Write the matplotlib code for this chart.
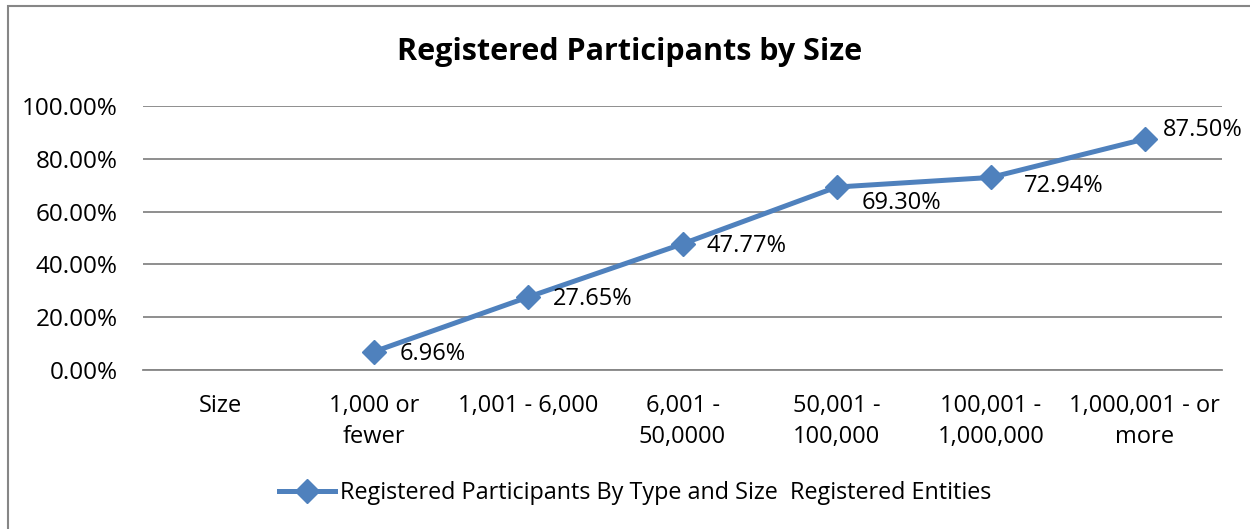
import matplotlib
matplotlib.use('Agg')
import matplotlib.pyplot as plt
from matplotlib.patches import Rectangle
from matplotlib.ticker import FuncFormatter, MultipleLocator

# data
categories = ["Size", "1,000 or\nfewer", "1,001 - 6,000", "6,001 -\n50,0000",
              "50,001 -\n100,000", "100,001 -\n1,000,000", "1,000,001 - or\nmore"]
values = [None, 0.0696, 0.2765, 0.4777, 0.6930, 0.7294, 0.8750]
value_labels = ["", "6.96%", "27.65%", "47.77%", "69.30%", "72.94%", "87.50%"]
series_name = "Registered Participants By Type and Size  Registered Entities"

blue = '#4F81BD'
grey = '#868686'
plt.rcParams['font.family'] = ['Open Sans', 'DejaVu Sans']

W, H = 1250, 529
fig = plt.figure(figsize=(W / 100, H / 100), dpi=100)
fig.patch.set_facecolor('white')

# outer chart border (runs off the right / bottom edges)
fig.patches.append(Rectangle((8 / W, -0.1), 1.2, (H - 6) / H + 0.1, transform=fig.transFigure,
                             fill=False, edgecolor=grey, linewidth=1.5))

ax = fig.add_axes([143 / W, 1 - 370 / H, (1222 - 143) / W, (370 - 106) / H])
x = list(range(len(categories)))
xs = [i for i, v in zip(x, values) if v is not None]
ys = [v for v in values if v is not None]
line, = ax.plot(xs, ys, color=blue, linewidth=3.6, marker='D', markersize=12,
                label=series_name)

# data labels (small manual nudges as in the source)
offsets = [(0, 0), (18, -1.5), (18, -1.5), (17, -1.5), (18, -11.5), (24, -6.5), (13, 6.5)]
for i, v in enumerate(values):
    if v is None:
        continue
    ax.annotate(value_labels[i], (i, v), xytext=offsets[i], textcoords='offset points',
                ha='left', va='center', fontsize=17, color='black')

ax.set_xlim(-0.5, len(categories) - 0.5)
ax.set_ylim(0, 1)
ax.yaxis.set_major_locator(MultipleLocator(0.2))
ax.yaxis.set_major_formatter(FuncFormatter(lambda v, p: f"{v * 100:.2f}%"))
ax.set_xticks(x)
ax.set_xticklabels(categories, fontsize=17, linespacing=1.4, va='top')
ax.tick_params(axis='y', labelsize=17.5, length=0, pad=18)
ax.tick_params(axis='x', length=0, pad=17)
ax.grid(axis='y', color=grey, linewidth=1.3)
ax.set_axisbelow(True)
for s in ['top', 'right', 'left']:
    ax.spines[s].set_visible(False)
ax.spines['bottom'].set_color(grey)
ax.spines['bottom'].set_linewidth(1.3)

fig.text(630 / W, 1 - 52 / H, "Registered Participants by Size", ha='center', va='center',
         fontsize=22, fontweight='bold')

fig.legend(handles=[line], loc='center', bbox_to_anchor=(635 / W, 1 - 493 / H),
           frameon=False, fontsize=16.8, handlelength=2.4, handletextpad=0.2)

fig.savefig('out.png', dpi=100, facecolor='white')
